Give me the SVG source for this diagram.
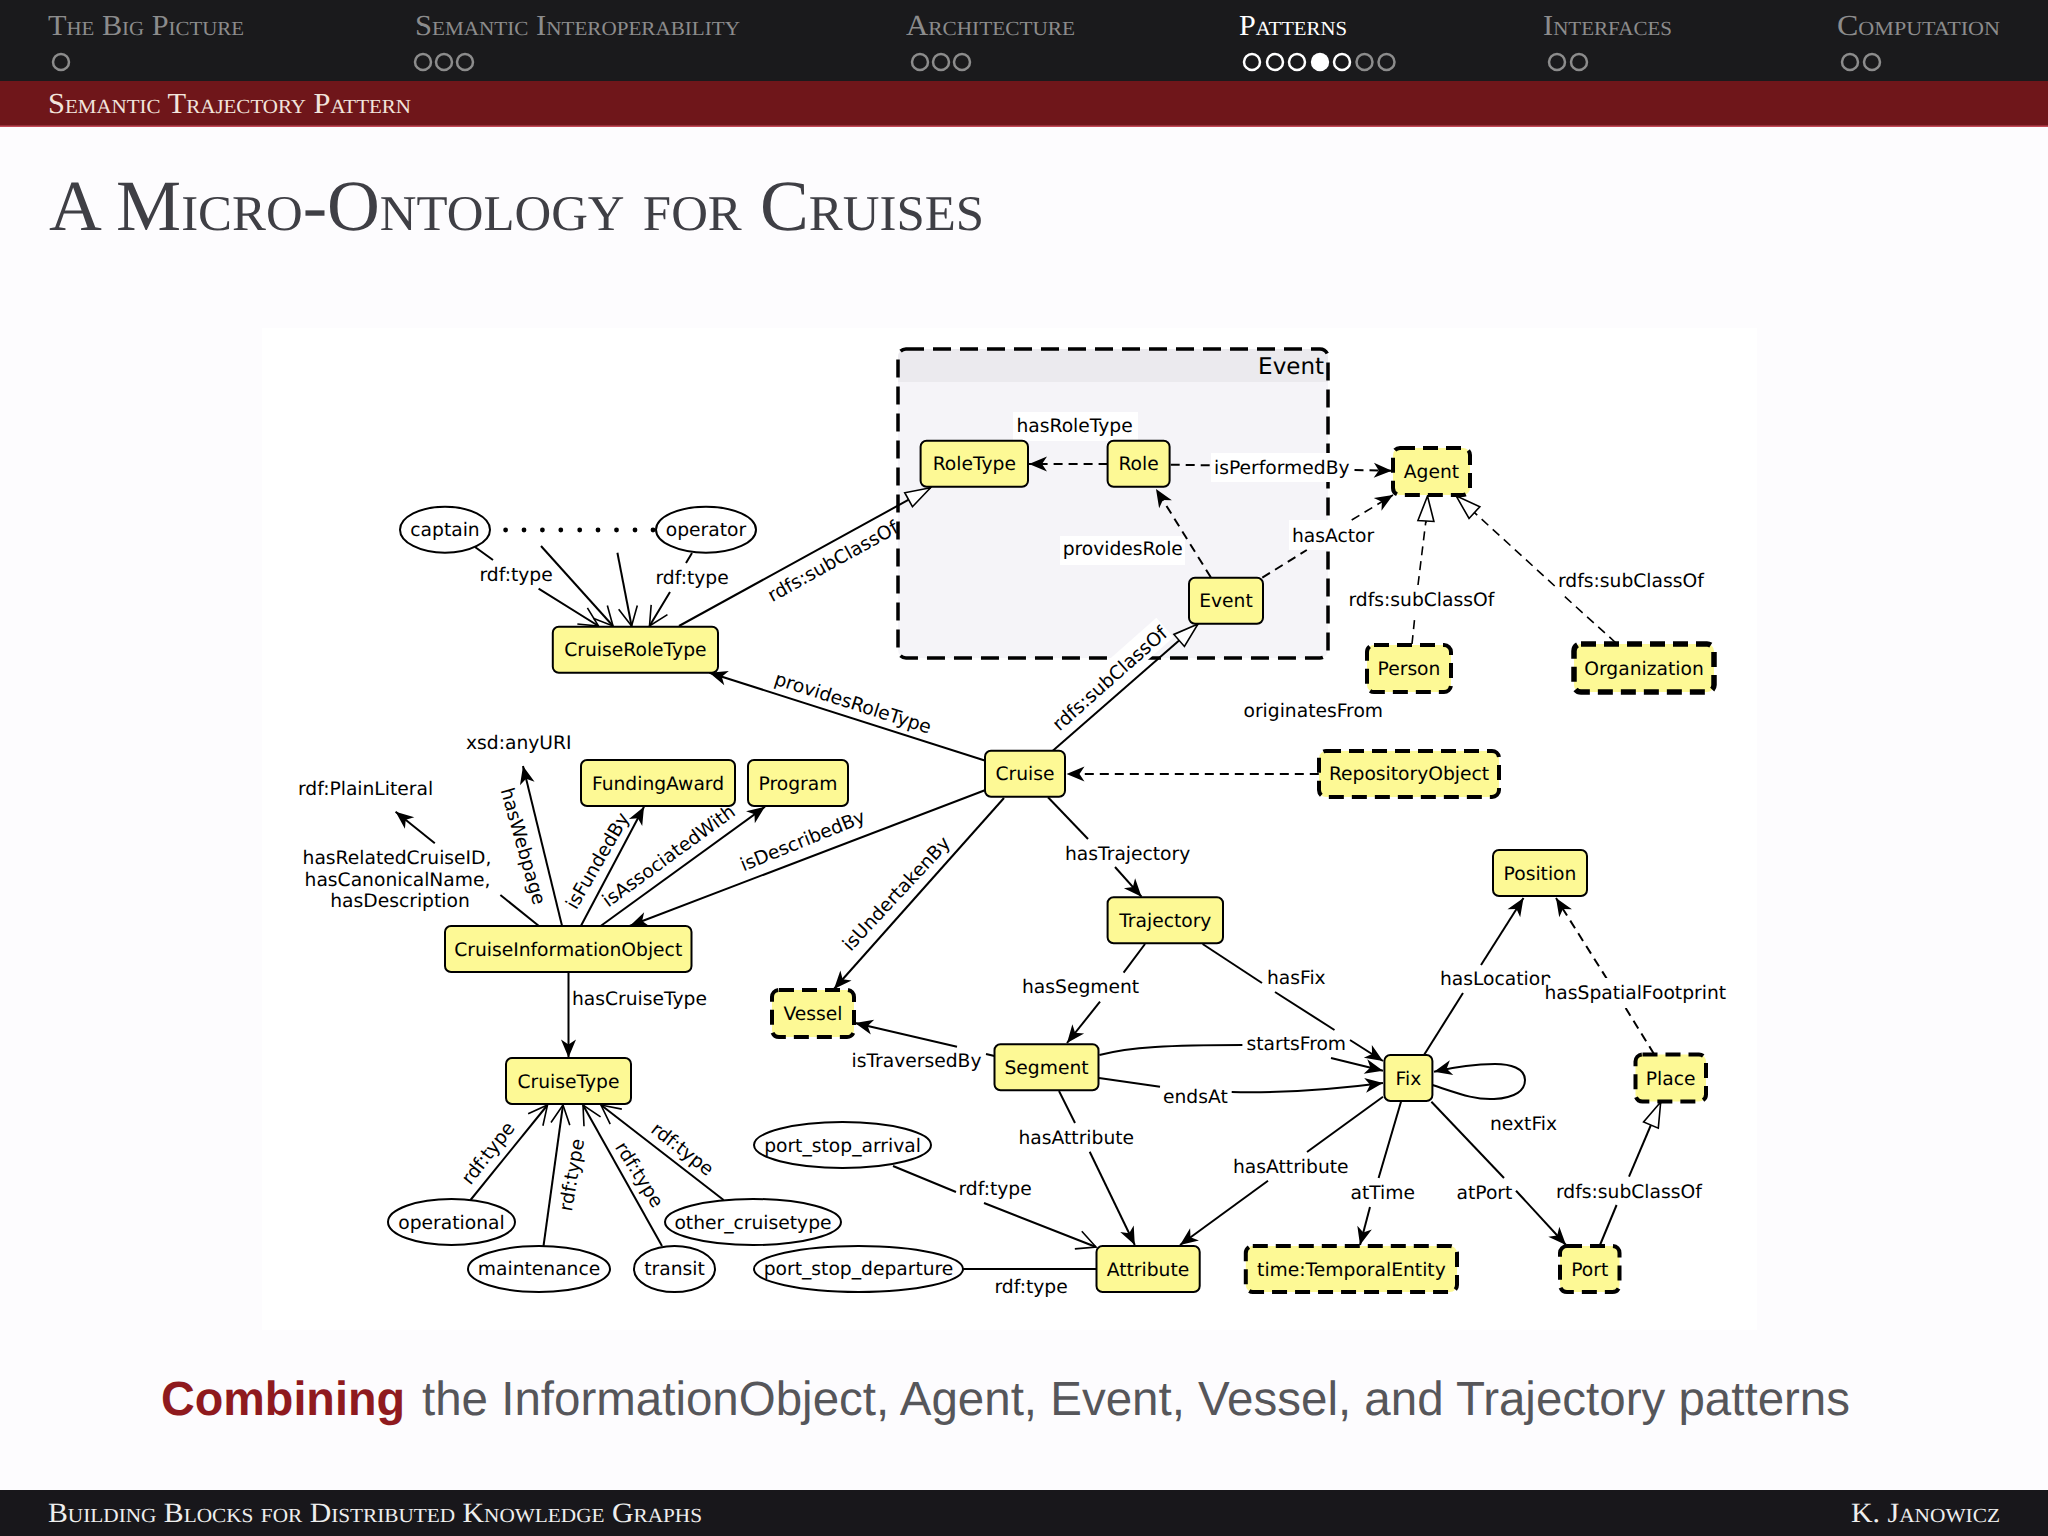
<svg xmlns="http://www.w3.org/2000/svg" width="2048" height="1536" viewBox="0 0 2048 1536">
<style>
text{text-rendering:geometricPrecision}
.sc{font-family:"Liberation Serif",serif;font-variant:small-caps}
.h{font-size:29px;fill:#8c8c8c}
.b{fill:none;stroke:#8c8c8c;stroke-width:2.5}
.on{stroke:#fff}
.t{font-family:"DejaVu Sans",sans-serif;font-size:18.7px;fill:#000}
.m{text-anchor:middle}
.n{fill:#fdf995;stroke:#000;stroke-width:2}
.d{fill:#fdf995;stroke:#000;stroke-width:4;stroke-dasharray:15 8}
.o{fill:#fff;stroke:#000;stroke-width:2}
.w{fill:#fff}
.c path{fill:none;stroke:#000;stroke-width:2}
.c path.s{stroke-dasharray:9 6}
.c path.s2{stroke-dasharray:9 6;stroke-width:1.6}
.f{marker-end:url(#fa)}
.p{marker-end:url(#oa)}
.e{marker-end:url(#ha)}
</style>
<defs>
<marker id="fa" viewBox="-19 -9 20 18" refX="0" refY="0" markerWidth="20" markerHeight="18" orient="auto" markerUnits="userSpaceOnUse"><path d="M0,0L-18,-7.5L-13,0L-18,7.5Z" fill="#000"/></marker>
<marker id="oa" viewBox="-21 -11 22 22" refX="0" refY="0" markerWidth="22" markerHeight="22" orient="auto" markerUnits="userSpaceOnUse"><path d="M-19,-9.5L0,0L-19,9.5" fill="none" stroke="#000" stroke-width="1.6"/></marker>
<marker id="ha" viewBox="-28 -10 29 20" refX="0" refY="0" markerWidth="29" markerHeight="20" orient="auto" markerUnits="userSpaceOnUse"><path d="M0,0L-25,-8L-25,8Z" fill="#fff" stroke="#000" stroke-width="1.6"/></marker>
</defs>
<rect width="2048" height="1536" fill="#fdfcfe"/>
<rect x="262" y="328" width="1495" height="1002" fill="#fff"/>
<g id="header">
<rect width="2048" height="81" fill="#1a1a1c"/>
<rect y="81" width="2048" height="45" fill="#6f161a"/>
<rect y="125.5" width="2048" height="1.5" fill="#c24a58"/>
<text class="sc h" x="48" y="35" textLength="196" lengthAdjust="spacingAndGlyphs">The Big Picture</text>
<text class="sc h" x="415" y="35" textLength="325" lengthAdjust="spacingAndGlyphs">Semantic Interoperability</text>
<text class="sc h" x="906" y="35" textLength="169" lengthAdjust="spacingAndGlyphs">Architecture</text>
<text class="sc h" x="1239" y="35" textLength="108" lengthAdjust="spacingAndGlyphs" style="fill:#fff">Patterns</text>
<text class="sc h" x="1543" y="35" textLength="129" lengthAdjust="spacingAndGlyphs">Interfaces</text>
<text class="sc h" x="1837" y="35" textLength="163" lengthAdjust="spacingAndGlyphs">Computation</text>
<circle class="b" cx="61" cy="62" r="8"/>
<circle class="b" cx="423" cy="62" r="8"/><circle class="b" cx="444" cy="62" r="8"/><circle class="b" cx="465" cy="62" r="8"/>
<circle class="b" cx="920" cy="62" r="8"/><circle class="b" cx="941" cy="62" r="8"/><circle class="b" cx="962" cy="62" r="8"/>
<circle class="b on" cx="1252" cy="62" r="8"/><circle class="b on" cx="1275" cy="62" r="8"/><circle class="b on" cx="1297" cy="62" r="8"/><circle cx="1320" cy="62" r="9.2" fill="#fff"/><circle class="b on" cx="1342" cy="62" r="8"/><circle class="b" cx="1364.5" cy="62" r="8"/><circle class="b" cx="1386.5" cy="62" r="8"/>
<circle class="b" cx="1557" cy="62" r="8"/><circle class="b" cx="1579" cy="62" r="8"/>
<circle class="b" cx="1850" cy="62" r="8"/><circle class="b" cx="1872" cy="62" r="8"/>
<text class="sc" x="48" y="113" font-size="29" fill="#f2e4dc" textLength="363" lengthAdjust="spacingAndGlyphs">Semantic Trajectory Pattern</text>
</g>
<text class="sc" x="49" y="230" font-size="72" fill="#3f3f45" textLength="935" lengthAdjust="spacingAndGlyphs">A Micro-Ontology for Cruises</text>
<g id="EventBox">
<rect x="898" y="349" width="430" height="309" rx="8" fill="#f5f4f8"/>
<path d="M906,349H1320a8,8 0 0 1 8,8V382H898V357a8,8 0 0 1 8,-8Z" fill="#ebeaee"/>
<rect x="898" y="349" width="430" height="309" rx="8" fill="none" stroke="#000" stroke-width="3.5" stroke-dasharray="18 9"/>
<text class="t" x="1324" y="374" text-anchor="end" style="font-size:23px">Event</text>
</g>
<g id="labelbacks">
<rect class="w" x="1013" y="412" width="125" height="29"/>
<rect class="w" x="1211" y="453" width="141" height="29"/>
<rect class="w" x="1289" y="520" width="86" height="30"/>
<rect class="w" x="1060" y="536" width="125" height="29"/>
<rect class="w" x="-70" y="-16" width="146" height="26" transform="translate(1110,680) rotate(-41.5)"/>
</g>
<g id="connectors" class="c">
<path class="p" d="M475,547L493,560M538.6,588.7L598.5,626"/>
<path class="p" d="M541,546L613,626"/>
<path class="p" d="M617.4,552.7L631.6,626"/>
<path class="p" d="M692,553L686,563M670,592L649.5,626"/>
<path class="e" d="M679,626L930.5,487.7"/>
<path class="f" d="M985.5,760.7L709.4,672.7"/>
<path class="f" d="M562,925.7L523,766"/>
<path class="f" d="M581,925.7L644,806.7"/>
<path class="f" d="M601,925.7L765,806.7"/>
<path class="f" d="M985.5,790L630,925.7"/>
<path class="f" d="M1004,798L834,989"/>
<path class="f" d="M568.5,972V1057.5"/>
<path d="M500.4,895L538.6,925.7"/>
<path class="f" d="M434.8,843.3L395.6,811.7"/>
<path class="p" d="M470.5,1200L547.5,1105"/>
<path class="p" d="M543.5,1246L563,1105"/>
<path class="p" d="M662,1246L583,1105"/>
<path class="p" d="M723.6,1200L601,1105"/>
<path class="p" d="M893,1166L956,1192M984,1203L1096,1247"/>
<path d="M963,1269H1096"/>
<path class="f" d="M957,1046.7L855,1023"/>
<path d="M986,1054L994.5,1056"/>
<path d="M1145,944L1123.6,972.7"/>
<path class="f" d="M1100,1001.7L1067,1043"/>
<path d="M1202.6,944L1262,983"/>
<path d="M1275,992L1334.5,1030"/>
<path class="f" d="M1350,1040L1383,1061"/>
<path d="M1099.4,1055C1130,1047 1170,1045 1242.4,1045"/>
<path class="f" d="M1331,1058L1383,1070.7"/>
<path d="M1099,1078L1160,1086.7"/>
<path class="f" d="M1231.7,1092C1280,1093 1330,1090 1383,1083"/>
<path d="M1059,1091L1075,1123"/>
<path class="f" d="M1089.7,1151.7L1134.8,1245"/>
<path d="M1383,1096.7L1307,1152"/>
<path class="f" d="M1268,1180.7L1180,1245"/>
<path d="M1401,1101.7L1378.6,1178"/>
<path class="f" d="M1370,1207L1360,1245"/>
<path d="M1431.4,1101.7L1504,1178"/>
<path class="f" d="M1516,1190.7L1566,1245"/>
<path d="M1424,1055L1463,993"/>
<path class="f" d="M1481,965L1523.5,898"/>
<path class="s f" d="M1607,979L1556,898"/>
<path class="s" d="M1654,1054L1625,1007"/>
<path d="M1600,1245L1616.6,1205"/>
<path class="e" d="M1629,1176.7L1660.7,1102"/>
<path class="f" d="M1432.4,1085C1460,1094 1475,1100 1494,1099C1516,1098 1525,1090 1525,1080C1525,1068 1510,1064 1495,1064C1475,1064 1450,1068 1434,1071.7"/>
<path d="M1048,797.3L1088,839"/>
<path class="f" d="M1115,867L1141.5,896.7"/>
<path class="e" d="M1052.8,750.7L1198,624"/>
<path class="s f" d="M1107.6,464H1029"/>
<path class="s" d="M1170.7,464.7L1210.8,465.3"/>
<path class="s f" d="M1354.5,470L1391.8,470.7"/>
<path class="s" d="M1262.3,577.7L1306.8,550"/>
<path class="s2 f" d="M1351.7,520L1393,495"/>
<path class="s f" d="M1210.8,577.3L1156,489"/>
<path class="s2" d="M1412,644L1415,615M1418,585L1425.8,521.7"/>
<path class="s2 e" d="M1425.8,523L1427.5,496"/>
<path class="s2" d="M1616,643L1563,595"/>
<path class="s2 e" d="M1554.7,586L1456,495.7"/>
<path class="s f" d="M1318.8,774H1066.5"/>
</g>
<g id="dots"><circle cx="505.6" cy="530" r="2.4"/><circle cx="524" cy="530" r="2.4"/><circle cx="542.4" cy="530" r="2.4"/><circle cx="560.8" cy="530" r="2.4"/><circle cx="579.7" cy="530" r="2.4"/><circle cx="598" cy="530" r="2.4"/><circle cx="616.5" cy="530" r="2.4"/><circle cx="635" cy="530" r="2.4"/><circle cx="653" cy="530" r="2.4"/></g>
<g id="n-RoleType"><rect class="n" x="920.6" y="440.7" width="107.4" height="46" rx="6"/><text class="t m" x="974.3" y="470.3">RoleType</text></g>
<g id="n-Role"><rect class="n" x="1107.6" y="440.7" width="62" height="46" rx="6"/><text class="t m" x="1138.6" y="470.3">Role</text></g>
<g id="n-Agent"><rect class="d" x="1393" y="448" width="77" height="47" rx="7"/><text class="t m" x="1431.5" y="478">Agent</text></g>
<g id="n-Event"><rect class="n" x="1189" y="577.7" width="74" height="46" rx="6"/><text class="t m" x="1226" y="607.3">Event</text></g>
<g id="n-Person"><rect class="d" x="1367" y="645" width="84" height="47" rx="7"/><text class="t m" x="1409" y="675">Person</text></g>
<g id="n-Organization"><rect class="d" style="stroke-width:5.5" x="1574" y="644" width="140" height="48" rx="7"/><text class="t m" x="1644" y="675">Organization</text></g>
<g id="n-Cruise"><rect class="n" x="985" y="750.7" width="80" height="46" rx="6"/><text class="t m" x="1025" y="780.3">Cruise</text></g>
<g id="n-RepositoryObject"><rect class="d" x="1319" y="751" width="180" height="46" rx="7"/><text class="t m" x="1409" y="780.3">RepositoryObject</text></g>
<g id="n-captain"><ellipse class="o" cx="445" cy="529.7" rx="45" ry="23"/><text class="t m" x="445" y="536">captain</text></g>
<g id="n-operator"><ellipse class="o" cx="706" cy="529.7" rx="50" ry="23"/><text class="t m" x="706" y="536">operator</text></g>
<g id="n-CruiseRoleType"><rect class="n" x="552.8" y="626.7" width="165.2" height="46" rx="6"/><text class="t m" x="635.4" y="656.3">CruiseRoleType</text></g>
<g id="n-FundingAward"><rect class="n" x="581" y="760" width="154" height="46" rx="6"/><text class="t m" x="658" y="789.6">FundingAward</text></g>
<g id="n-Program"><rect class="n" x="748" y="760" width="100" height="46" rx="6"/><text class="t m" x="798" y="789.6">Program</text></g>
<g id="n-CruiseInformationObject"><rect class="n" x="445" y="926" width="246.5" height="46" rx="6"/><text class="t m" x="568.2" y="955.5">CruiseInformationObject</text></g>
<g id="n-CruiseType"><rect class="n" x="506" y="1058" width="125" height="46" rx="6"/><text class="t m" x="568.5" y="1087.5">CruiseType</text></g>
<g id="n-Vessel"><rect class="d" x="772" y="990" width="82" height="47" rx="7"/><text class="t m" x="813" y="1020">Vessel</text></g>
<g id="n-Segment"><rect class="n" x="994.5" y="1044.3" width="104" height="46" rx="6"/><text class="t m" x="1046.5" y="1074">Segment</text></g>
<g id="n-operational"><ellipse class="o" cx="451.5" cy="1222" rx="63.5" ry="23"/><text class="t m" x="451.5" y="1228.5">operational</text></g>
<g id="n-maintenance"><ellipse class="o" cx="539" cy="1269" rx="71" ry="23"/><text class="t m" x="539" y="1275">maintenance</text></g>
<g id="n-transit"><ellipse class="o" cx="674.5" cy="1269" rx="40.5" ry="23"/><text class="t m" x="674.5" y="1275">transit</text></g>
<g id="n-other_cruisetype"><ellipse class="o" cx="753" cy="1222" rx="88" ry="23"/><text class="t m" x="753" y="1228.5">other_cruisetype</text></g>
<g id="n-port_stop_arrival"><ellipse class="o" cx="842.5" cy="1145" rx="88.5" ry="23"/><text class="t m" x="842.5" y="1151.5">port_stop_arrival</text></g>
<g id="n-port_stop_departure"><ellipse class="o" cx="858.5" cy="1269" rx="104.5" ry="23"/><text class="t m" x="858.5" y="1275">port_stop_departure</text></g>
<g id="n-Attribute"><rect class="n" x="1096.5" y="1246" width="103.2" height="46" rx="6"/><text class="t m" x="1148" y="1275.5">Attribute</text></g>
<g id="n-TemporalEntity"><rect class="d" x="1245.8" y="1246" width="211.2" height="46" rx="7"/><text class="t m" x="1351.4" y="1275.5">time:TemporalEntity</text></g>
<g id="n-Port"><rect class="d" x="1560" y="1246" width="59.5" height="46" rx="7"/><text class="t m" x="1589.7" y="1275.5">Port</text></g>
<g id="n-Fix"><rect class="n" x="1384.4" y="1055" width="48" height="46" rx="6"/><text class="t m" x="1408.4" y="1084.5">Fix</text></g>
<g id="n-Place"><rect class="d" x="1635.5" y="1054.5" width="70.5" height="47" rx="7"/><text class="t m" x="1670.7" y="1084.5">Place</text></g>
<g id="n-Position"><rect class="n" x="1493" y="850" width="94" height="46" rx="6"/><text class="t m" x="1540" y="879.5">Position</text></g>
<g id="n-Trajectory"><rect class="n" x="1107.6" y="897.3" width="115.4" height="46" rx="6"/><text class="t m" x="1165.3" y="927">Trajectory</text></g>
<g id="labels">
<text class="t" x="1016.5" y="432">hasRoleType</text>
<text class="t" x="1214" y="473.5">isPerformedBy</text>
<text class="t" x="1292" y="541.7">hasActor</text>
<text class="t" x="1062.7" y="555">providesRole</text>
<text class="t" x="1348.5" y="606">rdfs:subClassOf</text>
<text class="t" x="1558" y="587.3">rdfs:subClassOf</text>
<text class="t" x="1243.5" y="716.7">originatesFrom</text>
<text class="t" x="466" y="748.7">xsd:anyURI</text>
<text class="t" x="298" y="794.7">rdf:PlainLiteral</text>
<text class="t m" x="397" y="864">hasRelatedCruiseID,</text>
<text class="t m" x="397.5" y="885.5">hasCanonicalName,</text>
<text class="t m" x="400" y="906.7">hasDescription</text>
<text class="t" x="479.5" y="580.5">rdf:type</text>
<text class="t" x="655.5" y="584">rdf:type</text>
<text class="t m" transform="translate(836,567) rotate(-29)">rdfs:subClassOf</text>
<text class="t m" transform="translate(851,709) rotate(17.7)">providesRoleType</text>
<text class="t m" transform="translate(517,848) rotate(74)">hasWebpage</text>
<text class="t m" transform="translate(603,864) rotate(-60)">isFundedBy</text>
<text class="t m" transform="translate(672.5,861) rotate(-36)">isAssociatedWith</text>
<text class="t m" transform="translate(805,846.5) rotate(-22)">isDescribedBy</text>
<text class="t m" transform="translate(901,898) rotate(-47)">isUndertakenBy</text>
<text class="t m" transform="translate(1114,683.5) rotate(-41.5)">rdfs:subClassOf</text>
<text class="t" x="572" y="1004.5">hasCruiseType</text>
<text class="t m" transform="translate(493,1157) rotate(-52)">rdf:type</text>
<text class="t m" transform="translate(578,1176) rotate(-80)">rdf:type</text>
<text class="t m" transform="translate(634,1178) rotate(58)">rdf:type</text>
<text class="t m" transform="translate(678.5,1154) rotate(38)">rdf:type</text>
<text class="t" x="958.5" y="1194.5">rdf:type</text>
<text class="t" x="994.5" y="1292.7">rdf:type</text>
<text class="t" x="851.5" y="1066.7">isTraversedBy</text>
<text class="t" x="1022" y="992.7">hasSegment</text>
<text class="t" x="1267" y="984">hasFix</text>
<text class="t" x="1246.5" y="1050">startsFrom</text>
<text class="t" x="1163" y="1103">endsAt</text>
<text class="t" x="1018.5" y="1144">hasAttribute</text>
<text class="t" x="1233" y="1173">hasAttribute</text>
<text class="t" x="1350.5" y="1199">atTime</text>
<text class="t" x="1456.5" y="1199">atPort</text>
<text class="t" x="1440" y="985">hasLocation</text>
<rect class="w" x="1544" y="978" width="182" height="30"/>
<text class="t" x="1544.5" y="999.3">hasSpatialFootprint</text>
<text class="t" x="1556" y="1197.7">rdfs:subClassOf</text>
<text class="t" x="1490" y="1130">nextFix</text>
<text class="t" x="1065" y="860">hasTrajectory</text>
</g>
<text x="161" y="1415" font-family="'Liberation Sans',sans-serif" font-size="48" font-weight="700" fill="#8f1a1e" textLength="244" lengthAdjust="spacingAndGlyphs">Combining</text>
<text x="422" y="1415" font-family="'Liberation Sans',sans-serif" font-size="48" fill="#56565a" textLength="1428" lengthAdjust="spacingAndGlyphs">the InformationObject, Agent, Event, Vessel, and Trajectory patterns</text>
<g id="footer">
<rect y="1490" width="2048" height="46" fill="#18171b"/>
<text class="sc" x="48" y="1522" font-size="28" fill="#eee" textLength="654" lengthAdjust="spacingAndGlyphs">Building Blocks for Distributed Knowledge Graphs</text>
<text class="sc" x="1851" y="1522" font-size="28" fill="#eee" textLength="149" lengthAdjust="spacingAndGlyphs">K. Janowicz</text>
</g>
</svg>
